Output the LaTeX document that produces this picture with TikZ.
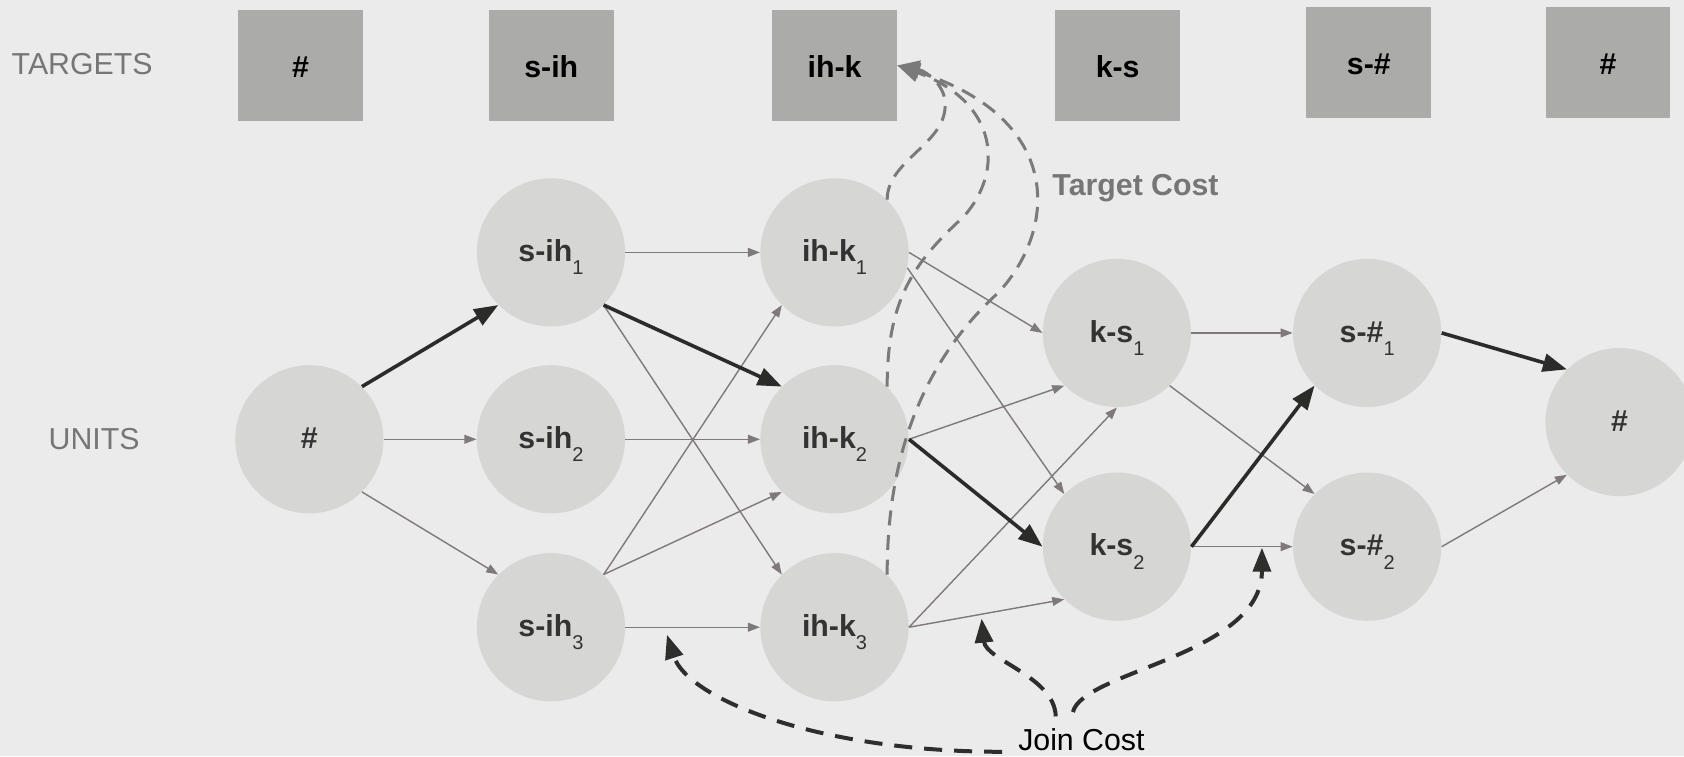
\documentclass[tikz,border=0pt]{standalone}
\usepackage{fontspec}
\setmainfont{Liberation Sans}
\usetikzlibrary{arrows.meta}

\definecolor{bg}{HTML}{EBEBEB}
\definecolor{unitfill}{HTML}{D6D6D5}
\definecolor{boxfill}{HTML}{ABABAA}
\definecolor{thinline}{HTML}{7F7979}
\definecolor{thickline}{HTML}{2B2B29}
\definecolor{tcost}{HTML}{7A7A7A}
\definecolor{jcost}{HTML}{2E2E2C}
\definecolor{sidegray}{HTML}{767676}
\definecolor{unittext}{HTML}{333333}

% subscript index of a unit
\newcommand\ix[1]{\raisebox{-0.44em}{\fontsize{10pt}{11pt}\selectfont\mdseries #1}}

\begin{document}
\begin{tikzpicture}[x=0.537pt, y=-0.537pt,
  unit/.style={circle, fill=unitfill, minimum size=74.1pt, inner sep=0pt,
    text=unittext, font=\fontsize{15.15pt}{18pt}\selectfont\bfseries,
    text height=9.2pt, text depth=0pt},
  target/.style={rectangle, fill=boxfill, minimum width=62.45pt,
    minimum height=55.3pt, inner sep=0pt, text=black,
    font=\fontsize{15.15pt}{18pt}\selectfont\bfseries,
    text height=11.8pt, text depth=0pt},
  sidelabel/.style={inner sep=0pt, text=sidegray,
    font=\fontsize{15.15pt}{18pt}\selectfont},
  thinarrow/.style={draw=thinline, line width=0.7pt,
    -{Triangle[length=6pt, width=4.4pt]}},
  thickarrow/.style={draw=thickline, line width=1.8pt,
    -{Triangle[length=12pt, width=9pt]}},
  tcurve/.style={draw=tcost, line width=1.5pt, dash pattern=on 7.5pt off 4.8pt,
    -{Triangle[length=11pt, width=9pt]}},
  jcurve/.style={draw=jcost, line width=2pt, dash pattern=on 9pt off 6pt,
    -{Triangle[length=12pt, width=9pt]}},
]
% canvas
\fill[bg] (0,0) rectangle (1568,704);
\useasboundingbox (0,0) rectangle (1568,704);

% row labels
\node[sidelabel, anchor=base] (tl) at (76.5,69.8) {TARGETS};
\node[sidelabel, anchor=base] (ul) at (87.7,418.4) {UNITS};

% target boxes
\node[target] (T1) at (279.8,60.9) {\#};
\node[target] (T2) at (513.3,60.9) {s-ih};
\node[target] (T3) at (777.1,60.9) {ih-k};
\node[target] (T4) at (1040.7,60.9) {k-s};
\node[target] (T5) at (1274.5,58) {s-\#};
\node[target] (T6) at (1497.2,58) {\#};

% candidate units
\node[unit] (U0) at (288,409) {\#};
\node[unit] (A1) at (513,235) {s-ih\ix{1}};
\node[unit] (A2) at (513,409) {s-ih\ix{2}};
\node[unit] (A3) at (513,584) {s-ih\ix{3}};
\node[unit] (B1) at (777,235) {ih-k\ix{1}};
\node[unit] (B2) at (777,409) {ih-k\ix{2}};
\node[unit] (B3) at (777,584) {ih-k\ix{3}};
\node[unit] (C1) at (1040,310) {k-s\ix{1}};
\node[unit] (C2) at (1040,509) {k-s\ix{2}};
\node[unit] (D1) at (1273,310) {s-\#\ix{1}};
\node[unit] (D2) at (1273,509) {s-\#\ix{2}};
\node[unit] (E)  at (1508,393) {\#};

% transitions
\draw[thinarrow] (U0.east) -- (A2.west);
\draw[thinarrow] (U0.-45) -- (A3.135);
\draw[thinarrow] (A1.east) -- (B1.west);
\draw[thinarrow] (A1.-45) -- (B3.135);
\draw[thinarrow] (A2.east) -- (B2.west);
\draw[thinarrow] (A3.45) -- (B1.225);
\draw[thinarrow] (A3.45) -- (B2.225);
\draw[thinarrow] (A3.east) -- (B3.west);
\draw[thinarrow] (B1.east) -- (C1.west);
\draw[thinarrow] (B1.-12) -- (C2.135);
\draw[thinarrow] (B2.east) -- (C1.225);
\draw[thinarrow] (B3.east) -- (C1.south);
\draw[thinarrow] (B3.east) -- (C2.225);
\draw[thinarrow] (C1.east) -- (D1.west);
\draw[thinarrow] (C1.-45) -- (D2.135);
\draw[thinarrow] (C2.east) -- (D2.west);
\draw[thinarrow] (D2.east) -- (E.225);

% best path
\draw[thickarrow] (U0.45) -- (A1.225);
\draw[thickarrow] (A1.-45) -- (B2.135);
\draw[thickarrow] (B2.east) -- (C2.west);
\draw[thickarrow] (C2.east) -- (D1.225);
\draw[thickarrow] (D1.east) -- (E.135);

% target cost
\node[sidelabel, anchor=base, font=\fontsize{15.15pt}{18pt}\selectfont\bfseries] (tc) at (1057.3,182.2) {Target Cost};
\draw[tcurve] (B1.45) .. controls (826,150) and (878,135) .. (880,100)
  .. controls (882,80) and (862,66) .. (T3.east);
\draw[tcurve] (B2.45) .. controls (826,280) and (850,245) .. (897,202)
  .. controls (935,160) and (930,95) .. (T3.east);
\draw[tcurve] (B3.45) .. controls (826,440) and (850,345) .. (930,272)
  .. controls (985,212) and (990,110) .. (T3.east);

% join cost
\node[inner sep=0pt, anchor=base, text=black,
  font=\fontsize{15.15pt}{18pt}\selectfont] (jc) at (1006.9,699) {Join Cost};
\coordinate (jL) at (933,700);
\coordinate (jM) at (983,667);
\coordinate (jR) at (999,663);
\coordinate (tA) at (621,591);
\coordinate (tB) at (914,576);
\coordinate (tC) at (1175,510);
\draw[jcurve] (jL) .. controls (760,700) and (640,650) .. (tA);
\draw[jcurve] (jM) .. controls (982,630) and (918,615) .. (tB);
\draw[jcurve] (jR) .. controls (1008,625) and (1175,610) .. (tC);
\end{tikzpicture}
\end{document}
